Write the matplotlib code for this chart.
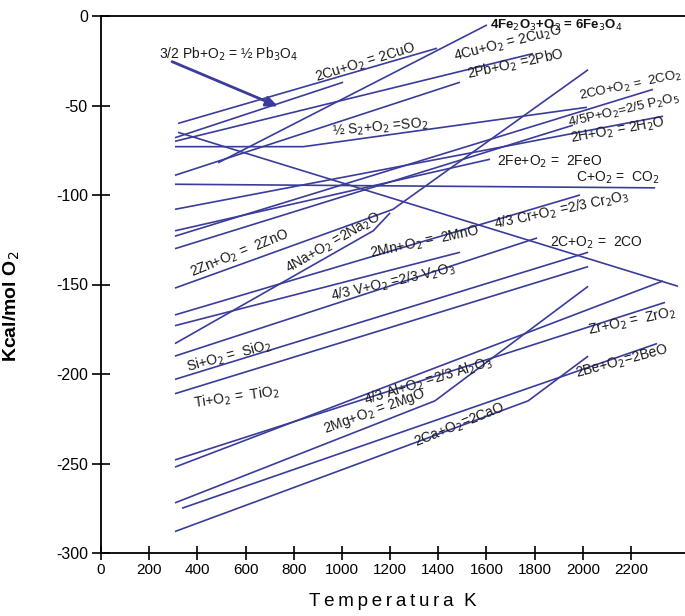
import matplotlib
matplotlib.use("Agg")
import matplotlib.pyplot as plt

# Ellingham diagram: temperature (K) vs dG (kcal/mol O2)
cuo_t, cuo_g = [320, 1395], [-60, -18]
pb3o4_t, pb3o4_g = [307, 1005], [-68, -37]
cu2o_t, cu2o_g = [307, 1793], [-70, -21]
pbo_t, pbo_g = [307, 1490], [-89, -37]
fe2o3_t, fe2o3_g = [486, 1602], [-82, -5]
so2_t, so2_g = [307, 840, 2017], [-73, -73, -51]
co_t, co_g = [320, 2395], [-65, -151]
co2_t, co2_g = [307, 2300], [-94, -96]
h2o_t, h2o_g = [307, 2333], [-108, -56]
feo_t, feo_g = [307, 1615], [-120, -80]
coco2_t, coco2_g = [307, 2291], [-123, -41]
p2o5_t, p2o5_g = [307, 1959], [-130, -61]
zno_t, zno_g = [307, 1212, 2022], [-152, -108, -30]
na2o_t, na2o_g = [307, 1130, 1200], [-183, -120, -110]
cr2o3_t, cr2o3_g = [307, 1988], [-167, -100]
mno_t, mno_g = [307, 1490], [-173, -132]
v2o3_t, v2o3_g = [307, 1810], [-190, -124]
sio2_t, sio2_g = [307, 2022], [-203, -132]
tio2_t, tio2_g = [307, 2022], [-211, -140]
al2o3_t, al2o3_g = [307, 2333], [-252, -148]
zro2_t, zro2_g = [307, 2341], [-248, -160]
mgo_t, mgo_g = [307, 1386, 2022], [-272, -215, -151]
beo_t, beo_g = [336, 2308], [-275, -183]
cao_t, cao_g = [307, 1773, 2022], [-288, -215, -190]

series = [
    (cuo_t, cuo_g), (pb3o4_t, pb3o4_g), (cu2o_t, cu2o_g), (pbo_t, pbo_g),
    (fe2o3_t, fe2o3_g), (so2_t, so2_g), (co_t, co_g), (co2_t, co2_g),
    (h2o_t, h2o_g), (feo_t, feo_g), (coco2_t, coco2_g), (p2o5_t, p2o5_g),
    (zno_t, zno_g), (na2o_t, na2o_g), (cr2o3_t, cr2o3_g), (mno_t, mno_g),
    (v2o3_t, v2o3_g), (sio2_t, sio2_g), (tio2_t, tio2_g), (al2o3_t, al2o3_g),
    (zro2_t, zro2_g), (mgo_t, mgo_g), (beo_t, beo_g), (cao_t, cao_g),
]

# label text, anchor (T, dG), rotation, font size
labels = [
    ("2Cu+O$_2$ = 2CuO", 1096, -26, 17, 10),
    ("4Cu+O$_2$ = 2Cu$_2$O", 1690, -15.5, 14, 10),
    ("2Pb+O$_2$ =2PbO", 1719, -27, 12, 10),
    ("2CO+O$_2$ =  2CO$_2$", 2200, -39, 12, 9.5),
    ("4/5P+O$_2$=2/5 P$_2$O$_5$", 2172, -53, 13, 9.5),
    ("2H+O$_2$ = 2H$_2$O", 2146, -64, 10, 10),
    ("½ S$_2$+O$_2$ =SO$_2$", 1158, -62, 5, 10),
    ("2Fe+O$_2$ =  2FeO", 1860, -81.6, 0, 10),
    ("C+O$_2$ =  CO$_2$", 2146, -90.5, 0, 10),
    ("2Zn+O$_2$ =  2ZnO", 577, -133, 22, 10),
    ("4Na+O$_2$ =2Na$_2$O", 963, -127, 30, 10),
    ("4/3 Cr+O$_2$ =2/3 Cr$_2$O$_3$", 1914, -108.5, 12, 10),
    ("2Mn+O$_2$ =  2MnO", 1345, -126.5, 12, 10),
    ("2C+O$_2$ =  2CO", 2055, -126.8, 0, 10),
    ("4/3 V+O$_2$ =2/3 V$_2$O$_3$", 1212, -148.6, 13, 10),
    ("Si+O$_2$ =  SiO$_2$", 531, -190, 15, 10),
    ("Ti+O$_2$ =  TiO$_2$", 565, -213, 8, 10),
    ("4/3 Al+O$_2$ =2/3 Al$_2$O$_3$", 1357, -204, 17, 10),
    ("Zr+O$_2$ =  ZrO$_2$", 2204, -171, 12, 10),
    ("2Be+O$_2$=2BeO", 2163, -193, 15, 10),
    ("2Mg+O$_2$ = 2MgO", 1137, -221, 20, 10),
    ("2Ca+O$_2$=2CaO", 1490, -228.5, 22, 10),
]

x_ticks = list(range(0, 2201, 200))
y_ticks = [0, -50, -100, -150, -200, -250, -300]

line_color = "#3a3c9c"
text_font = "Liberation Sans"

fig = plt.figure(figsize=(6.85, 6.16), dpi=100)
ax = fig.add_axes([101 / 685, 63 / 616, 584 / 685, 537 / 616])

for t, g in series:
    ax.plot(t, g, color=line_color, lw=1.2, solid_capstyle="butt")

for text, t, g, rot, size in labels:
    ax.text(t, g, text, rotation=rot, rotation_mode="anchor", ha="center", va="center",
            fontsize=size, family=text_font, color="#1a1a1a")

ax.text(1615, -5, "4Fe$_2$O$_3$+O$_2$ = 6Fe$_3$O$_4$", ha="left", va="center",
        fontsize=9.5, family=text_font, weight="bold", color="#111111")

ax.text(240, -21.5, "3/2 Pb+O$_2$ = ½ Pb$_3$O$_4$", ha="left", va="center",
        fontsize=10, family=text_font, color="#1a1a1a")
ax.annotate("", xy=(735, -50.5), xytext=(295, -25.5),
            arrowprops=dict(arrowstyle="-|>,head_length=0.7,head_width=0.3",
                            color=line_color, lw=2.0, shrinkA=0, shrinkB=0))

ax.set_xlim(0, 2424)
ax.set_ylim(-300, 0)
ax.set_xticks(x_ticks)
ax.set_yticks(y_ticks)
ax.set_xticklabels([str(v) for v in x_ticks], family=["Liberation Sans Narrow", text_font], fontsize=11)
ax.set_yticklabels([str(v) for v in y_ticks], family=text_font, fontsize=11.5)
ax.tick_params(axis="y", direction="inout", length=13, width=1.2, pad=3)
ax.tick_params(axis="x", direction="inout", length=10, width=1.2, pad=2)
ax.spines["right"].set_visible(False)
for s in ["left", "top", "bottom"]:
    ax.spines[s].set_linewidth(1.3)

ax.set_ylabel("Kcal/mol O$_2$", fontsize=14, weight="bold", family=text_font)
ax.yaxis.set_label_coords(-0.135, 0.46)
ax.set_xlabel("\u2009".join("Temperatura") + "  K", fontsize=13.5, family=text_font, labelpad=12)

fig.savefig("out.png", dpi=100)
